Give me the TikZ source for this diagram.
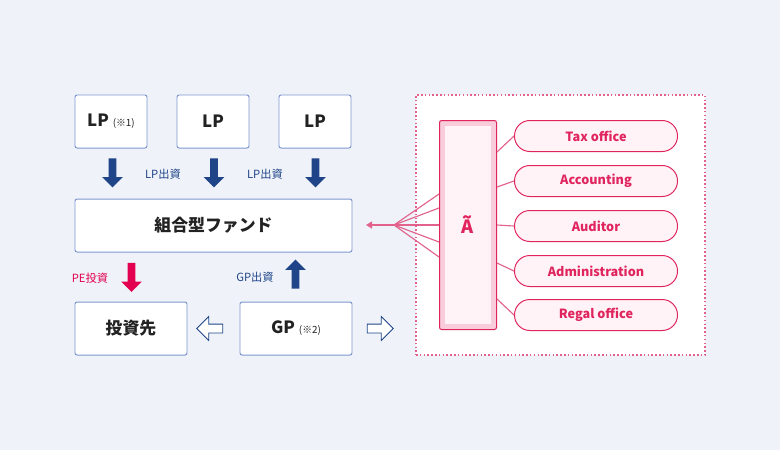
\documentclass[tikz,border=0pt]{standalone}
\usepackage{fontspec}
\setmainfont{Noto Sans CJK JP}
\usepackage{tikz}
\usetikzlibrary{shapes.arrows,arrows.meta,calc}
\definecolor{bgblue}{HTML}{EFF3F9}
\definecolor{boxline}{HTML}{7D98CE}
\definecolor{navy}{HTML}{1F4488}
\definecolor{crimson}{HTML}{E2004F}
\definecolor{rosetext}{HTML}{E0245E}
\definecolor{roseline}{HTML}{E2628C}
\definecolor{rosefill}{HTML}{FFF3F7}
\definecolor{rosebar}{HTML}{F8CCDA}
\definecolor{inktext}{HTML}{222222}
\def\px{0.025cm}
\newcommand{\fundboxnode}[5] {\node at (#1) (#2) [fundbox, minimum width=#4*\px, minimum height=#5*\px] {#3};}
\newcommand{\officenode}[3] {\node at (#1) (#2) [office] {#3};}
\newcommand{\blockarrow}[4] {\node at (#1) (#2) [#3, shape border rotate=#4] {};}
\newcommand{\flowlabel}[4] {\node at (#1) (#2) [flowtext, text=#3] {#4};}

\begin{document}
\begin{tikzpicture}[x=\px, y=-\px,
  fundbox/.style={draw=boxline, fill=white, line width=0.7pt, rounded corners=1.5pt, text=inktext, font=\bfseries\fontsize{12}{14}\selectfont},
  office/.style={draw=rosetext, fill=rosefill, line width=0.7pt, rounded corners=10.9pt, minimum width=163*\px, minimum height=31*\px, text=rosetext, font=\bfseries\fontsize{9}{11}\selectfont},
  flowtext/.style={font=\fontsize{8}{10}\selectfont, inner sep=0},
  navyarrow/.style={single arrow, fill=navy, inner sep=3.5*\px, minimum height=29*\px, single arrow head extend=6.5*\px},
  redarrow/.style={navyarrow, fill=crimson},
  hollowarrow/.style={single arrow, draw=navy, fill=white, line width=0.6pt, inner sep=4*\px, minimum height=26*\px, single arrow head extend=7.5*\px},
  rosewire/.style={draw=roseline, line width=0.8pt}]

\fill [bgblue] (0,0) rectangle (780,450);
\useasboundingbox (0,0) rectangle (780,450);

% left side
\fundboxnode {111,121.5} {lpA} {LP \fontsize{7}{8}\selectfont\mdseries(※1)} {72} {53};
\fundboxnode {213,121.5} {lpB} {LP} {72} {53};
\fundboxnode {315,121.5} {lpC} {LP} {72} {53};
\fundboxnode {213.5,225.5} {fund} {組合型ファンド} {277} {53};
\fundboxnode {131,328.5} {target} {投資先} {112} {53};
\fundboxnode {296,328.5} {gp} {GP \fontsize{7}{8}\selectfont\mdseries(※2)} {112} {53};

\blockarrow {112.5,171} {lpArrowA} {navyarrow} {270};
\blockarrow {214,171} {lpArrowB} {navyarrow} {270};
\blockarrow {315.5,171} {lpArrowC} {navyarrow} {270};
\flowlabel {163,174} {lpPayA} {navy} {LP出資};
\flowlabel {265,174} {lpPayB} {navy} {LP出資};

\blockarrow {131.5,275.5} {peArrow} {redarrow} {270};
\flowlabel {90,278} {peInvest} {crimson} {PE投資};
\blockarrow {295.5,276} {gpArrow} {navyarrow} {90};
\flowlabel {255,277} {gpPay} {navy} {GP出資};

\blockarrow {212,328.5} {gpToTarget} {hollowarrow} {180};
\blockarrow {378,328.5} {gpToPanel} {hollowarrow} {0};

% right side
\node at (560.5,225) (panel) [draw=roseline, fill=white, line width=1pt, dash pattern=on 1.1pt off 1.6pt, minimum width=289*\px, minimum height=260*\px] {};
\node at (468,225) (bar) [draw=rosetext, fill=rosebar, line width=0.7pt, rounded corners=1.5pt, minimum width=57*\px, minimum height=209*\px] {};
\node at (bar.center) (barcore) [fill=rosefill, minimum width=46*\px, minimum height=198*\px, text=rosetext, font=\bfseries\fontsize{13}{15}\selectfont] {Ã};

\officenode {596,136} {tax} {Tax office};
\officenode {596,181} {accounting} {Accounting};
\officenode {596,226} {auditor} {Auditor};
\officenode {596,271} {admin} {Administration};
\officenode {596,315} {regal} {Regal office};

\draw [rosewire] ($(bar.east)+(0,-73)$) -- (tax.west);
\draw [rosewire] ($(bar.east)+(0,-38)$) -- (accounting.west);
\draw [rosewire] (bar.east) -- (auditor.west);
\draw [rosewire] ($(bar.east)+(0,38)$) -- (admin.west);
\draw [rosewire] ($(bar.east)+(0,74)$) -- (regal.west);

\coordinate (hub) at (394,225);
\coordinate (fundTip) at (366,225);
\draw [rosewire] (hub) -- ($(bar.west)+(0,-31)$);
\draw [rosewire] (hub) -- ($(bar.west)+(0,-17)$);
\draw [rosewire] (hub) -- (bar.west);
\draw [rosewire] (hub) -- ($(bar.west)+(0,17)$);
\draw [rosewire] (hub) -- ($(bar.west)+(0,32)$);
\draw [rosewire, -{Triangle[length=6*\px, width=7*\px]}] (hub) -- (fundTip);

\end{tikzpicture}
\end{document}
